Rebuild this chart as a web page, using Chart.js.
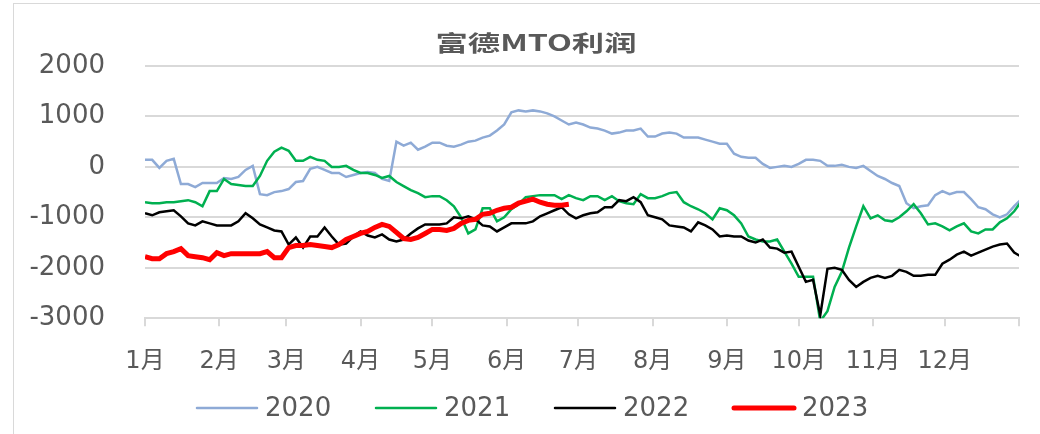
<!DOCTYPE html>
<html>
<head>
<meta charset="utf-8">
<script src="https://cdn.jsdelivr.net/npm/chart.js@4"></script>
<style>
  html, body { margin: 0; padding: 0; background: #fff; }
  #wrap { width: 1040px; height: 434px; }
</style>
</head>
<body>
<div id="wrap"><canvas id="mtoChart" width="1040" height="434"></canvas></div>
<script>
// values sampled every 3 days from 1 Jan
const stepDays = 3;
const monthStarts = [0, 31, 59, 90, 120, 151, 181, 212, 243, 273, 304, 334, 365];
const monthLabels = ['1月', '2月', '3月', '4月', '5月', '6月', '7月', '8月', '9月', '10月', '11月', '12月', ''];
const seriesNames = ['2020', '2021', '2022', '2023'];

const v2020 = [140,140,-20,120,160,-340,-340,-400,-320,-320,
  -320,-220,-240,-200,-60,20,-540,-560,-500,-480,
  -440,-300,-280,-40,0,-60,-120,-120,-200,-160,
  -120,-100,-120,-240,-280,500,420,480,340,400,
  480,480,420,400,440,500,520,580,620,720,
  840,1080,1120,1100,1120,1100,1060,1000,920,840,
  880,840,780,760,720,660,680,720,720,760,
  600,600,660,680,660,580,580,580,540,500,
  460,460,260,200,180,180,60,-20,0,20,
  0,60,140,140,120,20,20,40,0,-20,
  20,-80,-180,-240,-320,-380,-720,-820,-780,-760,
  -560,-480,-540,-500,-500,-640,-800,-840,-940,-1000,
  -940,-780,-640];

const v2021 = [-700,-720,-720,-700,-700,-680,-660,-700,-780,-480,
  -480,-240,-340,-360,-380,-380,-180,120,300,380,
  320,120,120,200,140,120,0,0,20,-60,
  -120,-120,-160,-220,-180,-300,-380,-460,-520,-600,
  -580,-580,-660,-780,-1000,-1320,-1240,-820,-820,-1080,
  -1000,-840,-740,-600,-580,-560,-560,-560,-640,-560,
  -620,-660,-580,-580,-660,-580,-680,-720,-740,-540,
  -620,-620,-580,-520,-500,-700,-780,-840,-920,-1040,
  -820,-860,-960,-1120,-1380,-1440,-1480,-1480,-1440,-1680,
  -1920,-2180,-2180,-2180,-3060,-2860,-2380,-2080,-1600,-1180,
  -780,-1020,-960,-1060,-1080,-1000,-880,-740,-920,-1140,
  -1120,-1180,-1260,-1180,-1120,-1280,-1320,-1240,-1240,-1100,
  -1020,-880,-680];

const v2022 = [-920,-960,-900,-880,-860,-980,-1120,-1160,-1080,-1120,
  -1160,-1160,-1160,-1080,-920,-1020,-1140,-1200,-1260,-1280,
  -1540,-1400,-1600,-1380,-1380,-1200,-1380,-1540,-1520,-1380,
  -1280,-1360,-1400,-1340,-1440,-1480,-1440,-1320,-1220,-1140,
  -1140,-1140,-1120,-1000,-1020,-980,-1040,-1160,-1180,-1280,
  -1200,-1120,-1120,-1120,-1080,-980,-920,-860,-800,-940,
  -1020,-960,-920,-900,-800,-800,-660,-680,-600,-700,
  -960,-1000,-1040,-1160,-1180,-1200,-1280,-1100,-1160,-1240,
  -1380,-1360,-1380,-1380,-1460,-1500,-1440,-1600,-1620,-1700,
  -1680,-1980,-2280,-2240,-2940,-2020,-2000,-2040,-2240,-2380,
  -2280,-2200,-2160,-2200,-2160,-2040,-2080,-2160,-2160,-2140,
  -2140,-1920,-1840,-1740,-1680,-1760,-1700,-1640,-1580,-1540,
  -1520,-1700,-1780];

const v2023 = [-1780,-1820,-1820,-1720,-1680,-1620,-1760,-1780,-1800,-1840,
  -1700,-1760,-1720,-1720,-1720,-1720,-1720,-1680,-1800,-1800,
  -1600,-1560,-1560,-1540,-1560,-1580,-1600,-1540,-1440,-1380,
  -1320,-1280,-1200,-1140,-1180,-1300,-1420,-1440,-1400,-1320,
  -1240,-1240,-1260,-1220,-1120,-1060,-1040,-940,-920,-860,
  -820,-800,-720,-680,-640,-700,-740,-760,-760,-740];

const colors = ['#8eaad6', '#00b050', '#000000', '#ff0000'];
const widths = [2.5, 2.5, 2.5, 5];
const allValues = [v2020, v2021, v2022, v2023];

const textColor = '#595959';
const gridColor = '#d9d9d9';
const baseFont = '"DejaVu Sans", "Noto Sans CJK SC", sans-serif';

function toPoints(values) {
    return values.map((v, i) => ({ x: i * stepDays, y: v }));
}

let datasets = seriesNames.map((name, i) => ({
    label: name,
    data: toPoints(allValues[i]),
    borderColor: colors[i],
    backgroundColor: colors[i],
    borderWidth: widths[i],
    pointRadius: 0,
    tension: 0,
    order: 4 - i
}));

// frame, title and legend are drawn by hand to sit where the original has them
const framePlugin = {
    id: 'frame',
    beforeDraw(chart) {
        const ctx = chart.ctx;
        ctx.save();
        ctx.fillStyle = '#ffffff';
        ctx.fillRect(0, 0, chart.width, chart.height);
        ctx.strokeStyle = '#d9d9d9';
        ctx.lineWidth = 1;
        ctx.strokeRect(13.5, 3.5, chart.width, chart.height);
        ctx.restore();
    },
    afterDraw(chart) {
        const ctx = chart.ctx;
        ctx.save();
        ctx.fillStyle = textColor;
        ctx.font = 'bold 22px "Noto Sans CJK SC", "DejaVu Sans", sans-serif';
        ctx.textAlign = 'center';
        ctx.textBaseline = 'middle';
        ctx.translate(536, 43);
        ctx.scale(1.47, 1);
        ctx.fillText('富德MTO利润', 0, 0);
        ctx.restore();

        // legend
        ctx.save();
        ctx.font = '26px ' + baseFont;
        ctx.textBaseline = 'middle';
        ctx.textAlign = 'left';
        const legendY = 408;
        let x = 197;
        chart.data.datasets.forEach((ds) => {
            ctx.strokeStyle = ds.borderColor;
            ctx.lineWidth = ds.borderWidth;
            ctx.lineCap = 'round';
            ctx.beginPath();
            ctx.moveTo(x, legendY);
            ctx.lineTo(x + 60, legendY);
            ctx.stroke();
            ctx.fillStyle = textColor;
            ctx.fillText(ds.label, x + 68, legendY + 1);
            x += 179;
        });
        ctx.restore();
    }
};

let mtoChart = new Chart(document.getElementById('mtoChart'), {
    type: 'line',
    data: { datasets: datasets },
    plugins: [framePlugin],
    options: {
        responsive: false,
        animation: false,
        layout: {
            padding: { left: 0, right: 17, top: 66, bottom: 37 }
        },
        scales: {
            x: {
                type: 'linear',
                min: 0,
                max: 365,
                afterBuildTicks: (scale) => {
                    scale.ticks = monthStarts.map(d => ({ value: d }));
                },
                ticks: {
                    autoSkip: false,
                    maxRotation: 0,
                    padding: 21,
                    color: textColor,
                    font: { family: baseFont, size: 24 },
                    callback: (value) => monthLabels[monthStarts.indexOf(value)]
                },
                grid: {
                    drawOnChartArea: false,
                    drawTicks: true,
                    tickLength: 8,
                    color: gridColor,
                    lineWidth: 2
                },
                border: { display: true, color: gridColor, width: 2 }
            },
            y: {
                min: -3000,
                max: 2000,
                afterFit: (scale) => { scale.width = 145; },
                ticks: {
                    stepSize: 1000,
                    padding: 40,
                    color: textColor,
                    font: { family: baseFont, size: 26 },
                    callback: (value) => String(value)
                },
                grid: {
                    drawTicks: false,
                    color: gridColor,
                    lineWidth: 2
                },
                border: { display: false }
            }
        },
        plugins: {
            title: { display: false },
            tooltip: { enabled: false },
            legend: { display: false }
        }
    }
});
</script>
</body>
</html>
